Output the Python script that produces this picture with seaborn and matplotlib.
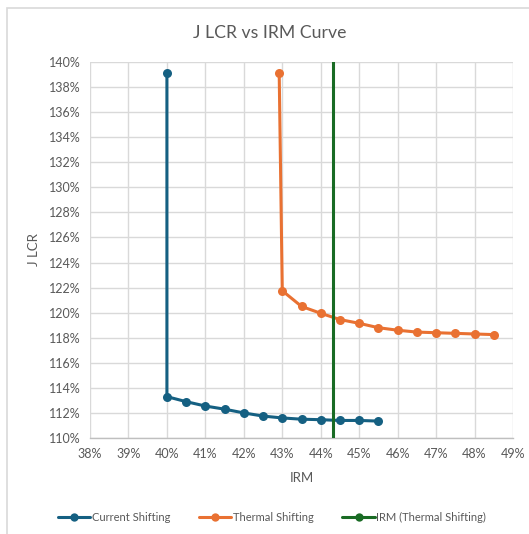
import matplotlib
matplotlib.use("Agg")
import matplotlib.pyplot as plt
import seaborn as sns
import pandas as pd
from matplotlib.ticker import PercentFormatter, MultipleLocator
from matplotlib.patches import Rectangle

# Data (fractions)
current_x = [0.40, 0.40, 0.405, 0.41, 0.415, 0.42, 0.425, 0.43, 0.435, 0.44, 0.445, 0.45, 0.455]
current_y = [1.391, 1.133, 1.129, 1.1255, 1.123, 1.120, 1.1175, 1.116, 1.115, 1.1146, 1.114, 1.114, 1.1135]
thermal_x = [0.4292, 0.43, 0.435, 0.44, 0.445, 0.45, 0.455, 0.46, 0.465, 0.47, 0.475, 0.48, 0.485]
thermal_y = [1.391, 1.2175, 1.205, 1.1995, 1.1945, 1.1915, 1.188, 1.186, 1.1845, 1.184, 1.1835, 1.183, 1.1825]
irm_x = [0.4431, 0.4431]
irm_y = [1.00, 1.50]

series_names = ["Current Shifting", "Thermal Shifting", "IRM (Thermal Shifting)"]
colors = ["#156082", "#E97132", "#196B24"]

frames = []
for name, xs, ys in zip(series_names, [current_x, thermal_x, irm_x], [current_y, thermal_y, irm_y]):
    frames.append(pd.DataFrame({"IRM": xs, "JLCR": ys, "series": name, "order": range(len(xs))}))
df = pd.concat(frames, ignore_index=True)

sns.set_style("white")
plt.rcParams["font.family"] = ["Lato", "DejaVu Sans"]

fig = plt.figure(figsize=(5.29, 5.34), dpi=100)
ax = fig.add_axes([90/529, 1 - 438/534, (513-90)/529, (438-62)/534])

for name, c in zip(series_names, colors):
    sub = df[df["series"] == name]
    sns.lineplot(data=sub, x="IRM", y="JLCR", sort=False, estimator=None, ax=ax,
                 color=c, linewidth=2.2, marker="o", markersize=6.5,
                 markeredgewidth=0, label=name, zorder=3)

ax.set_xlim(0.38, 0.49)
ax.set_ylim(1.10, 1.40)
ax.xaxis.set_major_locator(MultipleLocator(0.01))
ax.yaxis.set_major_locator(MultipleLocator(0.02))
ax.xaxis.set_major_formatter(PercentFormatter(1.0, decimals=0))
ax.yaxis.set_major_formatter(PercentFormatter(1.0, decimals=0))

ax.grid(True, color="#d9d9d9", linewidth=1.0, zorder=0)
ax.set_axisbelow(True)
for s in ["top", "right", "left"]:
    ax.spines[s].set_visible(False)
ax.spines["bottom"].set_color("#bfbfbf")
ax.spines["bottom"].set_linewidth(1.0)
ax.tick_params(axis="both", length=0, labelsize=9, colors="#595959", pad=7)

ax.set_xlabel("IRM", fontsize=9.5, color="#595959", labelpad=9)
ax.set_ylabel("J LCR", fontsize=9.5, color="#595959", labelpad=6)

fig.text(270/529, 1 - 33/534, "J LCR vs IRM Curve", ha="center", va="center",
         fontsize=12.7, color="#595959")

leg = ax.legend(loc="center", bbox_to_anchor=(272/529, 1 - 517/534),
                bbox_transform=fig.transFigure, ncol=3, frameon=False,
                fontsize=8, handlelength=2.9, columnspacing=2.6, handletextpad=0.15)
for t in leg.get_texts():
    t.set_color("#595959")
for h in leg.legend_handles:
    h.set_markersize(6)

fig.patches.append(Rectangle((7/529, -0.1), 2.0, 1.1 - 8/534, transform=fig.transFigure,
                             fill=False, edgecolor="#d9d9d9", linewidth=1.2))

fig.savefig("out.png", dpi=100)
